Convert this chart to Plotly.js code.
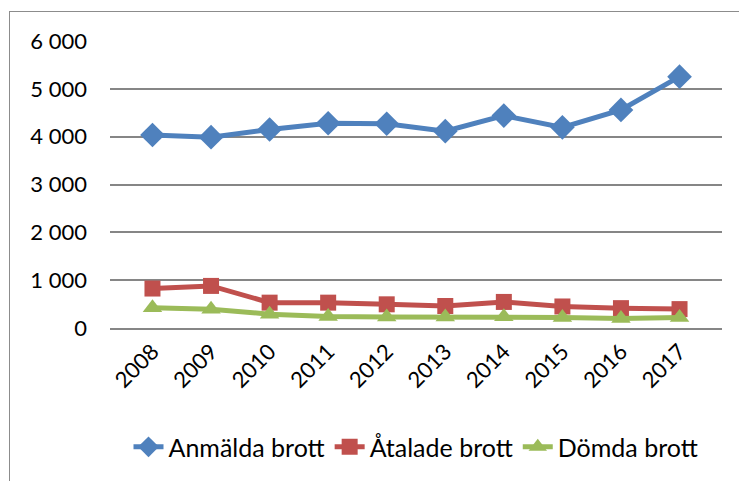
<!DOCTYPE html>
<html>
<head>
<meta charset="utf-8">
<script src="https://cdn.plot.ly/plotly-3.0.1.min.js"></script>
<style>
  body { margin: 0; background: #fff; }
  #wrap { position: relative; width: 739px; height: 481px; }
  #frame { position: absolute; left: 9px; top: 11px; width: 740px; height: 480px;
           border-left: 1.5px solid #8c8c8c; border-top: 1.5px solid #8c8c8c; pointer-events: none; }
</style>
</head>
<body>
<div id="wrap">
  <div id="myDiv" style="width:739px;height:481px;"></div>
  <div id="frame"></div>
</div>
<script>
const years = ['2008', '2009', '2010', '2011', '2012', '2013', '2014', '2015', '2016', '2017'];
const anmalda = [4035, 3990, 4150, 4280, 4270, 4115, 4440, 4195, 4560, 5255];
const atalade = [825, 880, 530, 530, 495, 460, 545, 450, 415, 395];
const domda = [425, 390, 290, 240, 228, 228, 235, 220, 200, 220];

const font = 'Lato, "Open Sans", sans-serif';

const trace1 = {
  x: years,
  y: anmalda,
  mode: 'lines+markers',
  name: 'Anmälda brott',
  line: { color: '#4F81BD', width: 5 },
  marker: { symbol: 'diamond', size: 19, color: '#4F81BD' },
};

const trace2 = {
  x: years,
  y: atalade,
  mode: 'lines+markers',
  name: 'Åtalade brott',
  line: { color: '#C0504D', width: 5 },
  marker: { symbol: 'square', size: 16, color: '#C0504D' },
};

const trace3 = {
  x: years,
  y: domda,
  mode: 'lines+markers',
  name: 'Dömda brott',
  line: { color: '#9BBB59', width: 5 },
  marker: { symbol: 'triangle-up', size: 17, color: '#9BBB59' },
};

const layout = {
  width: 739,
  height: 481,
  margin: { l: 110, r: 17, t: 41, b: 152 },
  paper_bgcolor: 'rgba(0,0,0,0)',
  plot_bgcolor: 'rgba(0,0,0,0)',
  separators: ', ',
  font: { family: font, size: 22, color: '#000' },
  showlegend: true,
  xaxis: {
    type: 'category',
    tickangle: -45,
    showgrid: false,
    showline: true,
    linecolor: '#868686',
    linewidth: 2,
    ticks: '',
    fixedrange: true,
  },
  yaxis: {
    range: [0, 6000],
    dtick: 1000,
    tickformat: ',d',
    showgrid: true,
    gridcolor: '#868686',
    gridwidth: 2,
    zeroline: false,
    ticklabelstandoff: 22,
    fixedrange: true,
  },
  legend: {
    orientation: 'h',
    x: 0.5,
    xanchor: 'center',
    y: -0.41,
    yanchor: 'middle',
    font: { family: font, size: 25 },
  },
};

Plotly.newPlot('myDiv', [trace1, trace2, trace3], layout, { displayModeBar: false });
</script>
</body>
</html>
